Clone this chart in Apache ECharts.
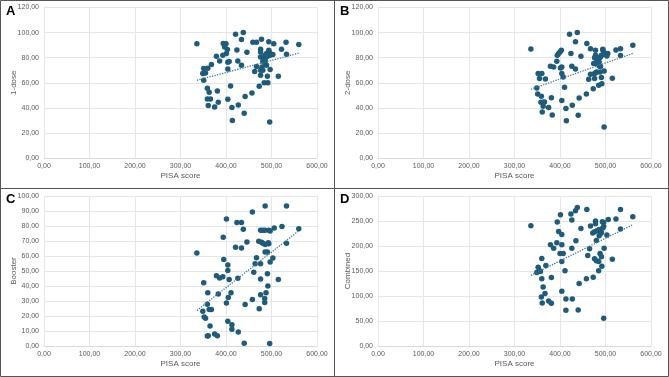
<!DOCTYPE html>
<html>
<head>
<meta charset="utf-8">
<script src="https://cdn.jsdelivr.net/npm/echarts@6/dist/echarts.min.js"></script>
<style>
  html, body { margin: 0; padding: 0; background: #fff; }
  #chart { width: 669px; height: 377px; }
</style>
</head>
<body>
<div id="chart"></div>
<script>
// PISA score vs vaccination, one list per panel
var oneDose = [
  [336,91],[421,98.7],[438,100],[434,94.4],[459,92.3],[467,92.3],[478,94.7],[494,92.6],[505,91],[532,92.3],
  [560,90.4],[522,86.7],[533,82.7],[515,65.2],[497,70.5],[496,28.7],[491,65.2],[492,60],[484,60],[473,57.2],
  [457,51.9],[442,49],[427,42.3],[440,35.6],[414,30],[413,40.2],[410,57.5],[404,46.8],[404,71],[404,76.3],
  [407,76.9],[426,77.4],[434,74],[424,86.2],[446,84.3],[463,68.9],[467,72.9],[403,86.5],[400,91],[394,91.2],
  [397,88.6],[401,83.3],[393,82],[386,77.4],[379,81.1],[368,74.5],[360,71.6],[351,71.3],[355,67.8],[349,67.3],
  [351,62],[359,55.6],[363,52.4],[381,53.5],[359,47.1],[366,47.1],[383,44.4],[361,41.8],[375,40.7],[476,86.7],
  [476,84.6],[476,80.6],[481,80.6],[486,81.9],[489,83.3],[494,85.9],[496,84],[497,81.9],[503,82.5],[491,81],
  [481,77.1],[486,78],[486,75.3],[489,74],[479,72.6],[481,70],[476,70],[476,66]
];
var twoDose = [
  [336,87],[421,98.7],[438,100],[434,92.6],[459,91.2],[467,87.2],[478,85.9],[494,86.7],[505,83.3],[523,86.2],
  [533,87.2],[560,89.9],[533,81.7],[515,63.6],[497,69.4],[497,24.7],[491,64.1],[492,59.3],[485,58],[473,55.3],
  [458,51.1],[442,47.9],[427,42],[440,34],[414,29.8],[413,39.4],[410,56.4],[404,45.8],[407,64.6],[404,67.3],
  [404,72.6],[426,73.2],[434,71],[424,83.3],[446,81.1],[463,62.8],[467,66.8],[403,85.9],[400,84.6],[397,83.3],
  [394,82],[401,71.8],[393,77.1],[386,72.6],[379,73.2],[368,63],[360,67.3],[352,67.3],[355,63.3],[349,55.9],
  [351,51.1],[359,49.2],[363,44.4],[381,48.1],[358,44.4],[366,44.7],[383,34.3],[361,36.7],[375,40.2],[363,41.2],
  [478,82],[476,80],[481,78.5],[486,79.5],[489,80.6],[494,86.4],[496,84.6],[497,82.7],[503,81.4],[491,81.9],
  [481,75.3],[486,76.6],[486,73.4],[489,72.9],[479,68.1],[481,68.6],[476,67.3],[476,63.3],[488,68.6],[474,75.3]
];
var booster = [
  [336,62],[401,84.6],[424,82.4],[434,82.4],[438,77.9],[458,89.3],[486,93.3],[533,93.3],[446,69.4],[421,65.8],
  [434,65.4],[394,72.5],[476,77.2],[481,77.2],[486,77.2],[494,77.2],[497,76.6],[506,78.6],[523,79.7],[560,78.1],
  [472,69.9],[478,69.2],[481,68.5],[486,67.6],[493,68.8],[494,68.1],[533,68.5],[486,62.7],[491,62.7],[467,58.9],
  [503,58.7],[464,54.9],[476,54.9],[497,56],[461,49.1],[491,48.2],[476,44.6],[515,44.4],[492,40],[395,57.6],
  [404,54],[404,50.4],[407,44.4],[379,46.9],[386,45.3],[393,46.2],[426,45.1],[351,42.2],[360,35.5],[383,34.6],
  [411,35.5],[405,32.4],[401,28.6],[442,27.7],[458,31],[476,34.2],[488,35.5],[485,31.7],[485,29],[473,24.8],
  [359,27.9],[363,24.3],[368,24.3],[349,23.2],[352,19.4],[355,18.5],[365,13.4],[404,16.5],[413,14.1],[413,11.2],
  [427,9.4],[361,6.9],[359,6.7],[375,8],[381,6.9],[440,1.8],[496,1.6]
];
var combined = [
  [336,240.5],[401,262.5],[424,263.9],[434,270.5],[438,277.2],[459,273.2],[426,251.8],[394,247.8],[446,235.1],[478,249.8],
  [478,244.5],[496,247.2],[493,248.5],[506,253.2],[523,253.8],[533,273.2],[560,258.5],[533,233.8],[503,221.8],[496,239.1],
  [494,235.8],[491,227.1],[486,233.1],[481,230.5],[476,228.5],[472,225.8],[467,239.8],[486,220.4],[489,224.5],[480,211.1],
  [435,210.4],[397,229.1],[404,223.1],[393,206.4],[379,202.4],[386,195.7],[404,202.4],[426,195.7],[465,194.4],[461,181],
  [497,195.7],[488,185],[491,178.4],[476,174.3],[480,170.3],[485,169],[515,173.7],[492,159.7],[485,150.3],[473,137.6],
  [458,134.3],[442,124.9],[400,185],[407,185],[404,169],[411,150.3],[369,161],[360,175],[352,157.6],[355,151],
  [349,147],[357,149],[360,134.3],[381,137],[363,118.2],[367,104.9],[404,109.6],[359,98.2],[375,90.2],[381,85.5],
  [361,86.2],[413,94.2],[427,94.2],[413,71.5],[440,72.1],[496,55.4]
];

var panels = [
  { tag: 'A', name: '1-dose',  data: oneDose,  max: 120, step: 20 },
  { tag: 'B', name: '2-dose',  data: twoDose,  max: 120, step: 20 },
  { tag: 'C', name: 'Booster', data: booster,  max: 100, step: 10 },
  { tag: 'D', name: 'Combined', data: combined, max: 300, step: 50 }
];

var dotColor = '#1f5b7a';
var textColor = '#595959';

function fmt(v) { return v.toFixed(2).replace('.', ','); }

// least squares line from min x to max x
function trend(pts) {
  var n = pts.length, sx = 0, sy = 0, sxx = 0, sxy = 0, lo = Infinity, hi = -Infinity;
  pts.forEach(function (p) {
    sx += p[0]; sy += p[1]; sxx += p[0] * p[0]; sxy += p[0] * p[1];
    lo = Math.min(lo, p[0]); hi = Math.max(hi, p[0]);
  });
  var b = (n * sxy - sx * sy) / (n * sxx - sx * sx);
  var a = (sy - b * sx) / n;
  return [[lo, a + b * lo], [hi, a + b * hi]];
}

var boxes = [
  { left: 44, top: 7.5, width: 273, height: 150.5 },
  { left: 378, top: 7.5, width: 273, height: 150.5 },
  { left: 44, top: 196, width: 273, height: 150 },
  { left: 378, top: 196, width: 273, height: 150 }
];

var grid = [], xAxis = [], yAxis = [], series = [], graphic = [];

panels.forEach(function (p, i) {
  var b = boxes[i];
  grid.push(b);
  xAxis.push({
    gridIndex: i, type: 'value', min: 0, max: 600, interval: 100,
    name: 'PISA score', nameLocation: 'middle', nameGap: 14,
    nameTextStyle: { color: textColor, fontSize: 8, fontFamily: 'Liberation Sans' },
    axisLine: { show: true, lineStyle: { color: '#d9d9d9' } },
    axisTick: { show: false },
    axisLabel: { color: textColor, fontSize: 7, margin: 5, fontFamily: 'Liberation Sans', formatter: fmt },
    splitLine: { show: true, lineStyle: { color: '#e6e6e6', width: 1 } }
  });
  yAxis.push({
    gridIndex: i, type: 'value', min: 0, max: p.max, interval: p.step,
    axisLine: { show: false },
    axisTick: { show: false },
    axisLabel: { color: textColor, fontSize: 7, margin: 5, fontFamily: 'Liberation Sans', formatter: fmt },
    splitLine: { show: true, lineStyle: { color: '#e6e6e6', width: 1 } }
  });
  series.push({
    type: 'scatter', xAxisIndex: i, yAxisIndex: i, data: p.data,
    symbolSize: 5.5, itemStyle: { color: dotColor, opacity: 1 }, silent: true
  });
  series.push({
    type: 'line', xAxisIndex: i, yAxisIndex: i, data: trend(p.data),
    symbol: 'none', silent: true,
    lineStyle: { color: '#3f7a90', width: 1.3, type: [1.3, 1.3] }
  });
  graphic.push({
    type: 'text', left: (i % 2) * 334 + 6, top: (i < 2 ? 0 : 188) + 5,
    style: { text: p.tag, fontSize: 13, fontWeight: 'bold', fill: '#000', fontFamily: 'Liberation Sans' }
  });
  // y axis title, rotated
  graphic.push({
    type: 'text', x: b.left - 30, y: b.top + b.height / 2, rotation: Math.PI / 2,
    style: { text: p.name, fontSize: 8, fill: textColor, fontFamily: 'Liberation Sans',
             align: 'center', verticalAlign: 'middle' }, silent: true
  });
});

// panel frame lines
graphic.push({ type: 'rect', shape: { x: 0.5, y: 0.5, width: 668, height: 376 },
  style: { fill: 'none', stroke: '#555', lineWidth: 1 }, silent: true });
graphic.push({ type: 'line', shape: { x1: 334.5, y1: 0, x2: 334.5, y2: 377 },
  style: { stroke: '#555', lineWidth: 1 }, silent: true });
graphic.push({ type: 'line', shape: { x1: 0, y1: 188.5, x2: 669, y2: 188.5 },
  style: { stroke: '#555', lineWidth: 1 }, silent: true });

var chart = echarts.init(document.getElementById('chart'), null, { renderer: 'canvas' });
chart.setOption({
  animation: false,
  grid: grid, xAxis: xAxis, yAxis: yAxis, series: series, graphic: graphic
});
</script>
</body>
</html>
